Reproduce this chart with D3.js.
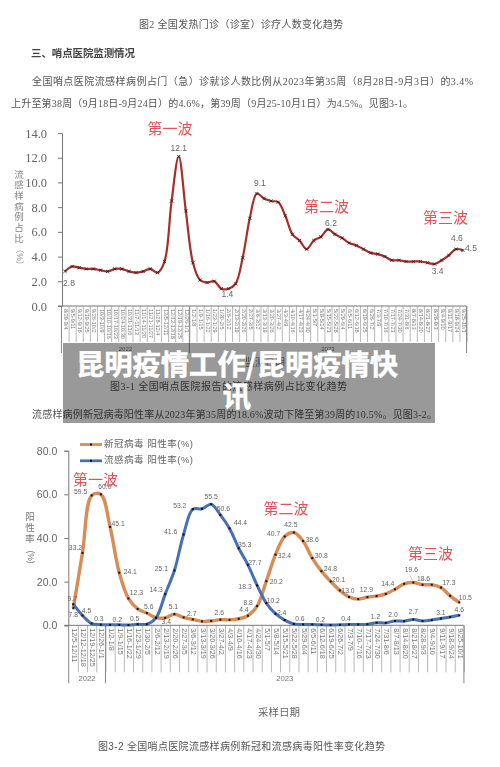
<!DOCTYPE html>
<html>
<head>
<meta charset="utf-8">
<script src="https://cdn.jsdelivr.net/npm/d3@7/dist/d3.min.js"></script>
<style>
  body { margin: 0; background: #fff; }
  svg { display: block; }
  #page { filter: blur(0.4px); }
</style>
</head>
<body>
<script>
var width = 500;
var height = 767;

// fig 3-1
var weeks1 = ["8/29-9/4","9/5-9/11","9/12-9/18","9/19-9/25","9/26-10/2","10/3-10/9","10/10-10/16","10/17-10/23","10/24-10/30","10/31-11/6","11/7-11/13","11/14-11/20","11/21-11/27","11/28-12/4","12/5-12/11","12/12-12/18","12/19-12/25","12/26-1/1","1/2-1/8","1/9-1/15","1/16-1/22","1/23-1/29","1/30-2/5","2/6-2/12","2/13-2/19","2/20-2/26","2/27-3/5","3/6-3/12","3/13-3/19","3/20-3/26","3/27-4/2","4/3-4/9","4/10-4/16","4/17-4/23","4/24-4/30","5/1-5/7","5/8-5/14","5/15-5/21","5/22-5/28","5/29-6/4","6/5-6/11","6/12-6/18","6/19-6/25","6/26-7/2","7/3-7/9","7/10-7/16","7/17-7/23","7/24-7/30","7/31-8/6","8/7-8/13","8/14-8/20","8/21-8/27","8/28-9/3","9/4-9/10","9/11-9/17","9/18-9/24","9/25-10/1"];
var ili = [2.8,3.2,3.1,3.0,3.0,2.9,2.8,3.0,3.0,2.8,2.7,2.8,3.0,2.7,3.6,8.5,12.1,7.7,3.5,2.1,1.9,2.0,1.4,1.4,1.8,3.9,7.1,9.1,8.7,8.5,8.4,7.3,5.8,5.3,4.6,5.3,5.6,6.2,5.8,5.5,5.1,4.9,4.6,4.3,4.2,4.0,3.7,3.7,3.6,3.6,3.6,3.5,3.4,3.7,4.1,4.6,4.5];
var yTicks1 = [0,2,4,6,8,10,12,14];
// [week index, label dx, label dy]
var iliLabels = [[0,4,12],[16,0,-8],[22,6,6],[27,3,-10],[37,3,-6],[52,3,8],[55,1,-10],[56,8,-2]];

// fig 3-2
var weeks2 = weeks1.slice(14);
var covid = [7.8,33.2,59.5,60.0,45.1,24.1,12.3,7.5,5.6,3.5,3.4,5.1,3.6,2.7,1.8,2.0,2.6,2.5,3.0,4.4,8.8,20.2,32.4,40.7,42.5,38.6,30.8,24.8,20.1,16.0,13.0,12.0,12.9,13.4,14.4,16.5,19.0,19.6,18.6,18.6,17.3,13.5,10.5];
var flu = [9.7,4.5,0.8,0.3,0.2,0.2,0.1,0.5,0.5,3.4,14.3,25.1,41.6,53.2,53.4,55.5,50.6,44.4,35.3,27.7,18.3,10.2,5.3,2.4,0.6,0.4,0.4,0.2,0.1,0.2,0.4,0.4,0.5,1.2,1.1,2.0,1.9,2.7,2.0,2.4,3.1,3.8,4.6];
var yTicks2 = [0,20,40,60,80];
var covidLabels = [[0,0,7],[1,-7,-5],[2,-11,-3],[3,4,-7],[4,8,-3],[5,11,0],[6,8,-5],[8,2,-6],[10,1,4],[11,-1,-7],[13,-1,-5],[16,-1,-6],[19,-4,-5],[20,-9,-3],[21,10,1],[22,9,2],[23,-11,-2],[24,-3,-7],[25,9,-1],[26,9,-2],[27,9,-2],[28,8,-1],[30,-1,-6],[32,-1,-7],[34,2,-10],[37,-2,-12],[38,1,-6],[40,8,-4],[42,6,-4]];
var fluLabels = [[0,-1,-5],[1,4,-4],[3,-2,-5],[5,-2,-5],[7,-3,-5],[10,-9,-4],[11,-13,-1],[12,-13,-2],[13,-13,-3],[15,0,-7],[16,3,-6],[17,11,-5],[18,6,-3],[19,7,-2],[20,-12,2],[21,7,-2],[23,-3,-7],[24,6,-5],[27,-1,-5],[30,-3,-5],[33,-1,-5],[35,-2,-6],[37,0,-7],[40,0,-5],[42,0,-5]];

var red = "#e2545a";
var sans = "'Liberation Sans','Noto Sans CJK SC',sans-serif";
var serif = "'Liberation Serif','Noto Sans CJK SC',serif";

var svg = d3.select("body")
            .append("svg")
            .attr("width", width)
            .attr("height", height);

var page = svg.append("g").attr("id", "page");

page.append("rect").attr("width", width).attr("height", height).attr("fill", "#fff");

function addText(str, x, y, size, opts) {
  opts = opts || {};
  var t = page.append("text")
    .attr("x", x)
    .attr("y", y)
    .attr("dominant-baseline", "middle")
    .attr("text-anchor", opts.anchor || "start")
    .attr("font-family", opts.font || serif)
    .attr("font-size", size)
    .attr("font-weight", opts.weight || 400)
    .attr("fill", opts.fill || "#555")
    .text(str);
  if (opts.len) t.attr("textLength", opts.len).attr("lengthAdjust", "spacing");
  return t;
}

// page text
addText("图2 全国发热门诊（诊室）诊疗人数变化趋势", 139, 26, 10, {len: 204});
addText("三、哨点医院监测情况", 31, 55, 10.5, {weight: 700, len: 104, fill: "#444"});
addText("全国哨点医院流感样病例占门（急）诊就诊人数比例从2023年第35周（8月28日-9月3日）的3.4%", 32, 83, 10, {len: 441});
addText("上升至第38周（9月18日-9月24日）的4.6%，第39周（9月25-10月1日）为4.5%。见图3-1。", 11, 105, 10, {len: 402});
addText("监测日期", 245, 363, 10, {font: sans, fill: "#777", len: 40});
addText("图3-1  全国哨点医院报告的流感样病例占比变化趋势", 110, 388, 10, {len: 237});
addText("流感样病例新冠病毒阳性率从2023年第35周的18.6%波动下降至第39周的10.5%。见图3-2。", 32, 416, 10, {len: 405});
addText("采样日期", 258, 713, 10.5, {font: sans, fill: "#666", len: 42});
addText("图3-2 全国哨点医院流感样病例新冠和流感病毒阳性率变化趋势", 98, 747, 10, {font: sans, len: 287});

// y-axis titles, stacked
var title1 = "流感样病例占比".split("");
title1.forEach(function(c, i) {
  addText(c, 19, 175 + i * 10.7, 9.5, {anchor: "middle", fill: "#888", font: sans});
});
addText("（%）", 0, 0, 8.5, {anchor: "middle", fill: "#888", font: sans})
  .attr("transform", "translate(19,257) rotate(90)");

var title2 = "阳性率".split("");
title2.forEach(function(c, i) {
  addText(c, 30, 517 + i * 11, 9.5, {anchor: "middle", fill: "#777", font: sans});
});
addText("(%)", 0, 0, 8.5, {anchor: "middle", fill: "#777", font: sans})
  .attr("transform", "translate(30,557) rotate(90)");

function drawAxes(cfg) {
  var x = d3.scalePoint().domain(cfg.weeks).range(cfg.xRange);
  var y = d3.scaleLinear().domain(cfg.yDomain).range(cfg.yRange);
  var step = x.step();

  var yAxis = d3.axisLeft(y)
    .tickValues(cfg.yTicks)
    .tickSize(4)
    .tickPadding(cfg.yPad)
    .tickFormat(d3.format(".1f"));

  var yg = page.append("g").attr("transform", "translate(" + cfg.axisX + ",0)").call(yAxis);
  yg.select(".domain").attr("stroke", "#777");
  yg.selectAll("line").attr("stroke", "#777");
  yg.selectAll("text")
    .attr("font-family", cfg.yFont)
    .attr("font-size", cfg.ySize)
    .attr("fill", "#666");

  var xAxis = d3.axisBottom(x).tickSizeOuter(0).tickSize(cfg.cellH).tickPadding(0);
  var xg = page.append("g").attr("transform", "translate(0," + y(0) + ")").call(xAxis);
  xg.select(".domain").remove();
  xg.selectAll("line")
    .attr("x1", step / 2)
    .attr("x2", step / 2)
    .attr("stroke", "#999")
    .attr("stroke-width", 0.7);
  xg.selectAll("text")
    .attr("font-family", sans)
    .attr("font-size", cfg.xSize)
    .attr("fill", "#777")
    .attr("text-anchor", "start")
    .attr("dominant-baseline", "middle")
    .attr("transform", "translate(0,3) rotate(90)")
    .attr("x", 0)
    .attr("y", 0)
    .attr("dy", 0);

  // baseline and year brackets
  var x0 = x(cfg.weeks[0]) - step / 2;
  var xEnd = x(cfg.weeks[cfg.weeks.length - 1]) + step / 2;
  var xSplit = x(cfg.weeks[cfg.split]) - step / 2;
  page.append("line")
    .attr("x1", cfg.axisX - 4).attr("x2", xEnd)
    .attr("y1", y(0)).attr("y2", y(0))
    .attr("stroke", "#777");
  page.selectAll(null)
    .data([x0, xSplit, xEnd])
    .enter()
    .append("line")
    .attr("x1", function(d) { return d; })
    .attr("x2", function(d) { return d; })
    .attr("y1", y(0))
    .attr("y2", y(0) + cfg.yearH)
    .attr("stroke", "#888");
  addText("2022", (x0 + xSplit) / 2, y(0) + cfg.yearH - 4, cfg.xSize + 0.5, {anchor: "middle", font: sans, fill: "#777"});
  addText("2023", (xSplit + xEnd) / 2, y(0) + cfg.yearH - 4, cfg.xSize + 0.5, {anchor: "middle", font: sans, fill: "#777"});

  return {x: x, y: y};
}

function drawLine(s, weeks, values, color, w) {
  var line = d3.line()
    .x(function(d, i) { return s.x(weeks[i]); })
    .y(function(d) { return s.y(d); })
    .curve(d3.curveCatmullRom);
  page.append("path")
    .datum(values)
    .attr("d", line)
    .attr("fill", "none")
    .attr("stroke", color)
    .attr("stroke-width", w);
}

function drawLabels(s, weeks, values, list, size, fill) {
  page.selectAll(null)
    .data(list)
    .enter()
    .append("text")
    .attr("x", function(d) { return s.x(weeks[d[0]]) + d[1]; })
    .attr("y", function(d) { return s.y(values[d[0]]) + d[2]; })
    .attr("text-anchor", "middle")
    .attr("dominant-baseline", "middle")
    .attr("font-family", sans)
    .attr("font-size", size)
    .attr("fill", fill)
    .text(function(d) { return d3.format(".1f")(values[d[0]]); });
}

// chart 1
var s1 = drawAxes({
  weeks: weeks1, xRange: [65, 463], yDomain: [0, 14], yRange: [306, 133],
  yTicks: yTicks1, axisX: 62, yPad: 11, yFont: serif, ySize: 12.5,
  cellH: 36, yearH: 47, split: 18, xSize: 5.6
});

drawLine(s1, weeks1, ili, "#a82e2a", 2.2);

page.selectAll(null)
  .data(ili)
  .enter()
  .append("path")
  .attr("d", "M-1.6,-1.6L1.6,1.6M-1.6,1.6L1.6,-1.6")
  .attr("transform", function(d, i) { return "translate(" + s1.x(weeks1[i]) + "," + s1.y(d) + ")"; })
  .attr("stroke", "#222")
  .attr("stroke-width", 0.8)
  .attr("fill", "none");

drawLabels(s1, weeks1, ili, iliLabels, 8.5, "#666");

addText("第一波", 170, 130, 15, {anchor: "middle", font: sans, fill: red});
addText("第二波", 326.5, 208, 15, {anchor: "middle", font: sans, fill: red});
addText("第三波", 445.5, 219, 15, {anchor: "middle", font: sans, fill: red});

// chart 2
var s2 = drawAxes({
  weeks: weeks2, xRange: [73.3, 459.3], yDomain: [0, 80], yRange: [625.3, 450.7],
  yTicks: yTicks2, axisX: 68.3, yPad: 7, yFont: sans, ySize: 10.5,
  cellH: 47, yearH: 58, split: 4, xSize: 7.2
});

drawLine(s2, weeks2, covid, "#d98d55", 3.4);
drawLine(s2, weeks2, flu, "#4a70b4", 3);

[covid, flu].forEach(function(values) {
  page.selectAll(null)
    .data(values)
    .enter()
    .append("rect")
    .attr("x", function(d, i) { return s2.x(weeks2[i]) - 1; })
    .attr("y", function(d) { return s2.y(d) - 1; })
    .attr("width", 2)
    .attr("height", 2)
    .attr("fill", "#111");
});

drawLabels(s2, weeks2, covid, covidLabels, 6.8, "#666");
drawLabels(s2, weeks2, flu, fluLabels, 6.8, "#666");

// leader line for 19.6
page.append("line")
  .attr("x1", s2.x(weeks2[37]) - 3).attr("x2", s2.x(weeks2[37]) - 1)
  .attr("y1", s2.y(covid[37]) - 7).attr("y2", s2.y(covid[37]) - 2)
  .attr("stroke", "#aaa")
  .attr("stroke-width", 0.6);

addText("第一波", 95.5, 481, 15, {anchor: "middle", font: sans, fill: red});
addText("第二波", 286, 510, 15, {anchor: "middle", font: sans, fill: red});
addText("第三波", 430.5, 555, 15, {anchor: "middle", font: sans, fill: red});

// legend
var legendNames = ["新冠病毒 阳性率(%)", "流感病毒 阳性率(%)"];
var legendColors = ["#d98d55", "#4a70b4"];
legendNames.forEach(function(name, i) {
  var ly = 444.5 + i * 16.3;
  page.append("line").attr("x1", 80).attr("x2", 102).attr("y1", ly).attr("y2", ly)
    .attr("stroke", legendColors[i]).attr("stroke-width", 2.8);
  page.append("rect").attr("x", 90).attr("y", ly - 1).attr("width", 2).attr("height", 2).attr("fill", "#111");
  addText(name, 104, ly, 9.5, {font: sans, fill: "#666", len: 89});
});

// banner over the page
svg.append("rect")
  .attr("x", 63)
  .attr("y", 343)
  .attr("width", 372)
  .attr("height", 80)
  .attr("fill", "#000")
  .attr("opacity", 0.4);

var bannerLines = ["昆明疫情工作/昆明疫情快", "讯"];
svg.selectAll(".banner")
  .data(bannerLines)
  .enter()
  .append("text")
  .attr("class", "banner")
  .attr("x", 237)
  .attr("y", function(d, i) { return 367 + i * 32; })
  .attr("text-anchor", "middle")
  .attr("dominant-baseline", "middle")
  .attr("font-family", "'Noto Sans CJK SC',sans-serif")
  .attr("font-weight", 700)
  .attr("font-size", 28.3)
  .attr("fill", "#fff")
  .attr("stroke", "#fff")
  .attr("stroke-width", 0.5)
  .text(function(d) { return d; });
</script>
</body>
</html>
